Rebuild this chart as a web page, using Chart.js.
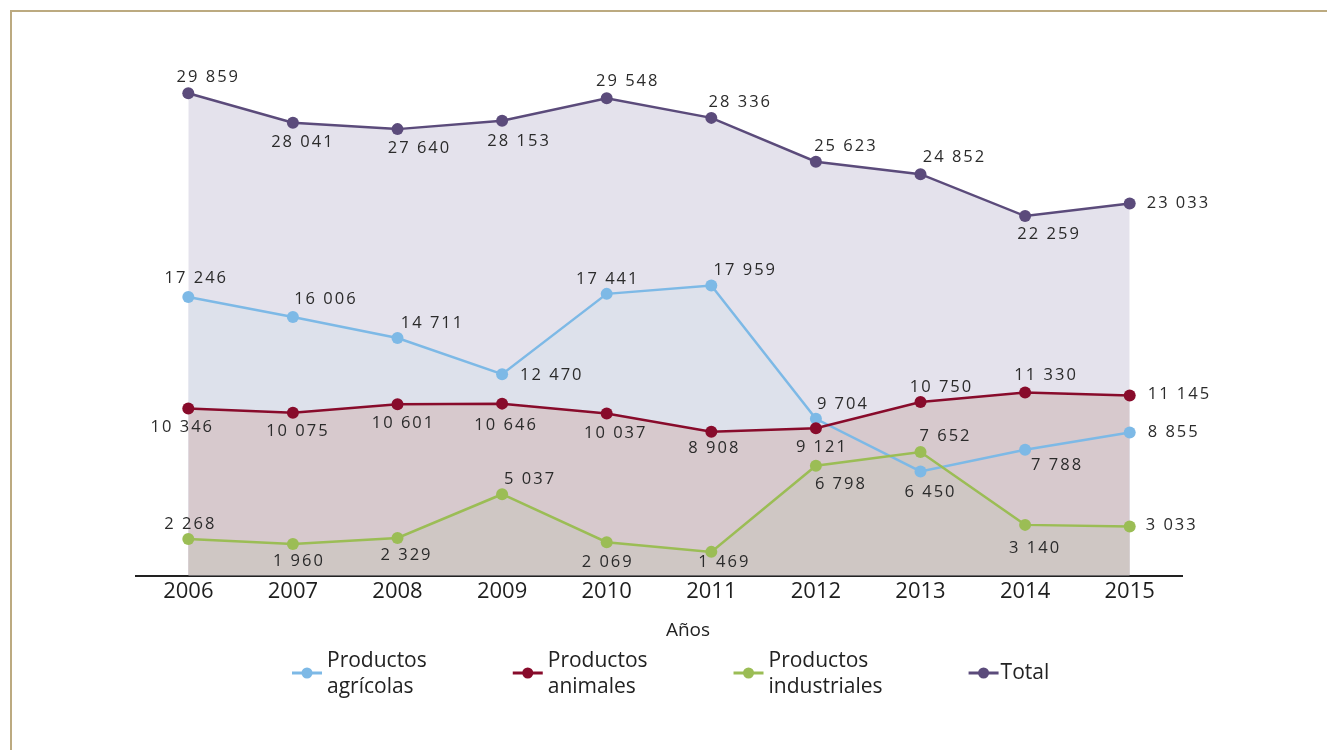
<!DOCTYPE html>
<html>
<head>
<meta charset="utf-8">
<script src="https://cdn.jsdelivr.net/npm/chart.js@4/dist/chart.umd.min.js"></script>
<style>
  html, body { margin: 0; padding: 0; background: #ffffff; }
  #wrap { width: 1327px; height: 750px; position: relative; }
</style>
</head>
<body>
<div id="wrap"><canvas id="c" width="1327" height="750"></canvas></div>
<script>
// ---- data ----
const years = ['2006','2007','2008','2009','2010','2011','2012','2013','2014','2015'];
const agricolas   = [17246, 16006, 14711, 12470, 17441, 17959, 9704, 6450, 7788, 8855];
const animales    = [10346, 10075, 10601, 10646, 10037, 8908, 9121, 10750, 11330, 11145];
const industriales= [2268, 1960, 2329, 5037, 2069, 1469, 6798, 7652, 3140, 3033];
const total       = [29859, 28041, 27640, 28153, 29548, 28336, 25623, 24852, 22259, 23033];
const seriesNames = [['Productos','agrícolas'], ['Productos','animales'], ['Productos','industriales'], ['Total']];
const axisTitle = 'Años';

// ---- label placement (style) : [dx, dy, align] relative to the point ----
const offAgr = [[8,-19,'c'],[33,-18,'c'],[35,-15,'c'],[18,1,'l'],[1,-15,'c'],[34,-15,'c'],[27,-15,'c'],[10,21,'c'],[32,15,'c'],[18,0,'l']];
const offAni = [[-6,19,'c'],[5,18,'c'],[6,19,'c'],[4,22,'c'],[9,20,'c'],[3,17,'c'],[6,19,'c'],[21,-15,'c'],[21,-17,'c'],[18,-1,'l']];
const offInd = [[2,-15,'c'],[6,17,'c'],[9,17,'c'],[28,-15,'c'],[1,20,'c'],[13,10,'c'],[25,19,'c'],[25,-16,'c'],[10,23,'c'],[16,-1,'l']];
const offTot = [[20,-16,'c'],[10,20,'c'],[22,19,'c'],[17,20,'c'],[21,-17,'c'],[29,-16,'c'],[30,-15,'c'],[34,-17,'c'],[24,18,'c'],[17,0,'l']];

const fmt = v => String(v).replace(/\B(?=(\d{3})+(?!\d))/g, ' ');
const FONT = '"Open Sans", "Noto Sans", sans-serif';

const framePlugin = {
  id: 'frame',
  beforeDraw(chart) {
    const ctx = chart.ctx;
    ctx.save();
    ctx.strokeStyle = '#bcaa80';
    ctx.lineWidth = 2;
    ctx.beginPath();
    ctx.moveTo(11, 750);
    ctx.lineTo(11, 11);
    ctx.lineTo(1327, 11);
    ctx.stroke();
    ctx.restore();
  }
};

const labelPlugin = {
  id: 'valueLabels',
  afterDatasetsDraw(chart) {
    const ctx = chart.ctx;
    ctx.save();
    ctx.font = '16.5px ' + FONT;
    ctx.letterSpacing = '2px';
    ctx.fillStyle = '#2b2b2b';
    ctx.textBaseline = 'middle';
    chart.data.datasets.forEach((ds, di) => {
      const meta = chart.getDatasetMeta(di);
      meta.data.forEach((pt, i) => {
        const o = ds.labelOffsets[i];
        ctx.textAlign = o[2] === 'l' ? 'left' : 'center';
        ctx.fillText(fmt(ds.data[i]), pt.x + o[0], pt.y + o[1]);
      });
    });
    ctx.restore();
  }
};

const legendPlugin = {
  id: 'customLegend',
  afterDraw(chart) {
    const ctx = chart.ctx;
    const area = chart.chartArea;
    ctx.save();
    // axis title
    ctx.font = '19px ' + FONT;
    ctx.fillStyle = '#222';
    ctx.textAlign = 'center';
    ctx.textBaseline = 'middle';
    ctx.fillText(axisTitle, (area.left + area.right) / 2 + 29, 631);
    // legend
    ctx.font = '21px ' + FONT;
    ctx.textAlign = 'left';
    let x = 292;
    const yMid = 673;
    chart.data.datasets.forEach((ds) => {
      const lines = ds.legendLines;
      ctx.strokeStyle = ds.borderColor;
      ctx.lineWidth = 3;
      ctx.beginPath();
      ctx.moveTo(x, yMid);
      ctx.lineTo(x + 30, yMid);
      ctx.stroke();
      ctx.fillStyle = ds.borderColor;
      ctx.beginPath();
      ctx.arc(x + 15, yMid, 5.5, 0, Math.PI * 2);
      ctx.fill();
      ctx.fillStyle = '#222';
      let w = 0;
      if (lines.length === 1) {
        ctx.fillText(lines[0], x + 32, yMid);
        w = ctx.measureText(lines[0]).width;
      } else {
        lines.forEach((t, k) => {
          ctx.fillText(t, x + 35, yMid - 12 + k * 26);
          w = Math.max(w, ctx.measureText(t).width);
        });
      }
      x += 35 + w + 86;
    });
    ctx.restore();
  }
};

const mk = (data, names, color, fillColor, offs, order) => ({
  label: names.join(' '),
  legendLines: names,
  data: data,
  borderColor: color,
  backgroundColor: fillColor,
  pointBackgroundColor: color,
  pointBorderColor: color,
  fill: 'origin',
  labelOffsets: offs,
  order: order,
  clip: false
});

new Chart(document.getElementById('c'), {
  type: 'line',
  data: {
    labels: years,
    datasets: [
      mk(agricolas, seriesNames[0], '#7db9e6', '#dde1eb', offAgr, 3),
      mk(animales, seriesNames[1], '#880b2b', '#d7c9cd', offAni, 2),
      mk(industriales, seriesNames[2], '#9bbd55', '#cfc7c4', offInd, 1),
      mk(total, seriesNames[3], '#5b4b7b', '#e4e2ec', offTot, 4)
    ]
  },
  options: {
    responsive: false,
    animation: false,
    events: [],
    layout: { padding: { left: 136, right: 145, top: 91, bottom: 142 } },
    elements: {
      line: { tension: 0, borderWidth: 2.5 },
      point: { radius: 6, borderWidth: 0 }
    },
    plugins: {
      legend: { display: false },
      tooltip: { enabled: false },
      filler: { drawTime: 'beforeDatasetsDraw' }
    },
    scales: {
      x: {
        offset: true,
        grid: { display: false, drawTicks: false },
        border: { display: true, color: '#222', width: 2 },
        ticks: { color: '#1e1e1e', font: { family: FONT, size: 22 }, padding: 3 }
      },
      y: { display: false, min: 0, max: 30000 }
    }
  },
  plugins: [framePlugin, labelPlugin, legendPlugin]
});
</script>
</body>
</html>
